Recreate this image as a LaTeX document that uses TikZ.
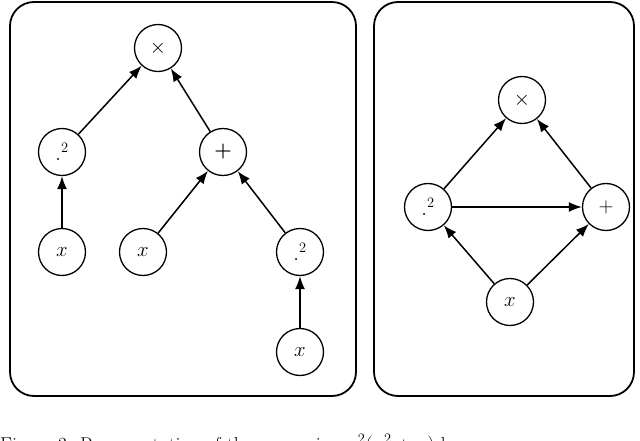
\documentclass[tikz,border=0pt]{standalone}
\usetikzlibrary{arrows.meta}
\begin{document}
\begin{tikzpicture}[x=1pt,y=-1pt,
  op/.style={circle,draw,line width=1.3pt,minimum size=47pt,inner sep=0pt,font=\fontsize{20}{24}\selectfont},
  edge/.style={-{Latex[length=13pt,width=10pt]},line width=1.5pt},
  panel/.style={draw,line width=1.8pt,rounded corners=24pt}]
\useasboundingbox (0,0) rectangle (640,441);
\draw[panel] (10,2) rectangle (356,396);
\draw[panel] (374,2) rectangle (634,396);
\node[op] (m1) at (158,48) {$\times$};
\node[op] (s1) at (62,152) {$.^2$};
\node[op] (p1) at (223,152) {\textbf{+}};
\node[op] (x1) at (62,252) {$x$};
\node[op] (x2) at (143,252) {$x$};
\node[op] (s2) at (300,252) {$.^2$};
\node[op] (x3) at (300,352) {$x$};
\draw[edge] (s1) -- (m1);
\draw[edge] (p1) -- (m1);
\draw[edge] (x1) -- (s1);
\draw[edge] (x2) -- (p1);
\draw[edge] (s2) -- (p1);
\draw[edge] (x3) -- (s2);
\node[op] (m2) at (522,100) {$\times$};
\node[op] (s3) at (428,207) {$.^2$};
\node[op] (p2) at (606,207) {$+$};
\node[op] (x4) at (510,302) {$x$};
\draw[edge] (s3) -- (m2);
\draw[edge] (p2) -- (m2);
\draw[edge] (s3) -- (p2);
\draw[edge] (x4) -- (s3);
\draw[edge] (x4) -- (p2);
\node[anchor=base west,inner sep=0pt,font=\fontsize{20}{24}\selectfont] (cap) at (0,451) {Figure 3: Representation of the expression $x^2(x^2+x)$ by};
\end{tikzpicture}
\end{document}
